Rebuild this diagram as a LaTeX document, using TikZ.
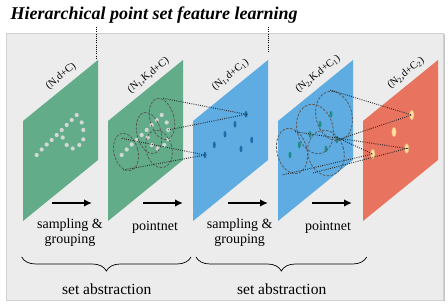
\documentclass[tikz,border=0pt]{standalone}
\usepackage{fontspec}
\setmainfont{Liberation Serif}
\usetikzlibrary{arrows.meta,decorations.pathreplacing}

\definecolor{bggray}{HTML}{ECECEC}
\definecolor{sheetgreen}{HTML}{62AC89}
\definecolor{sheetblue}{HTML}{5EACE2}
\definecolor{sheetred}{HTML}{E8735F}
\definecolor{pointgray}{HTML}{D3D7D5}
\definecolor{centerblue}{HTML}{1C6EAA}
\definecolor{centerteal}{HTML}{1E8C87}
\definecolor{featpeach}{HTML}{FDE0A0}
\definecolor{featedge}{HTML}{F2B27A}

% точки исходного облака (буква P)
\newcommand{\pdots}{36.7/149, 41.7/154.5, 46.7/159.5, 51.7/164, 56.7/169, 61.7/174, 66.7/179, 71.7/184, 76.7/189, 81.7/181.5, 83.3/174, 83.3/164.7, 79.3/159, 72.7/155.5, 66.7/159, 62.7/166.5}

\tikzset{
	sheet/.style={shift={(#1,83)}, cm={1,0.8133,0,1,(0,0)}},
	ballq/.style={draw=black!65, line width=0.8pt, dash pattern=on 2.5pt off 1.5pt},
	linkline/.style={draw=black!85, line width=0.9pt, dash pattern=on 0.9pt off 1.3pt},
	dimlabel/.style={rotate=39, inner sep=0pt, font=\fontsize{10.5}{12}\selectfont},
	steptext/.style={align=center, inner sep=0pt, font=\fontsize{14}{15}\selectfont},
	absttext/.style={inner sep=0pt, font=\fontsize{15.5}{17}\selectfont},
	flow/.style={line width=1.7pt, -{Latex[length=8pt,width=7.5pt]}},
	grp/.style={decorate, decoration={brace, mirror, amplitude=14pt}, line width=0.7pt}
}

\begin{document}
\begin{tikzpicture}[x=1pt, y=1pt]
	\useasboundingbox (0,0) rectangle (448,304);

	\fill[black!22] (7.5,2.5) rectangle (444.5,269.5); % тень
	\fill[bggray, draw=black!18, line width=0.5pt] (6,4) rectangle (443,271); % фон

	% листы
	\foreach \xo/\col in {23/sheetgreen, 108/sheetgreen, 193/sheetblue, 278/sheetblue, 363/sheetred}
		\fill[sheet=\xo, \col] (0,0) rectangle (75,100);

	% точки на первых двух листах
	\foreach \px/\py in \pdots {
		\fill[pointgray] (\px,\py) circle (2.1);
		\fill[pointgray] (\px+85,\py) circle (2.1);
	}

	% центроиды
	\foreach \px/\py [count=\i] in {246/189.7, 235/179.7, 225/169.7, 214.3/159, 205/149, 251.7/164, 241/155} {
		\coordinate (c\i) at (\px,\py);
		\coordinate (d\i) at (\px+85,\py);
		\fill[centerblue] (c\i) ellipse (1.5 and 3.4);
		\fill[centerteal] (d\i) ellipse (1.5 and 3.4);
	}
	\foreach \px/\py [count=\i] in {411.7/189, 394/172, 372.7/150, 406.7/155.5} {
		\coordinate (f\i) at (\px,\py);
		\filldraw[fill=featpeach, draw=featedge, line width=0.4pt] (f\i) ellipse (2.2 and 4.8);
	}

	% шары группировки
	\foreach \bx/\by/\rx/\ry in {162/185/12/21, 149/171/12/21, 126/152/12/19, 159/155/13/19}
		\draw[ballq] (\bx,\by) ellipse [x radius=\rx, y radius=\ry, rotate=14];
	\foreach \bx/\by/\rx/\ry in {334/188/18/25, 315/175/18/25, 292/153/15/23, 326/151/18/23}
		\draw[ballq] (\bx,\by) ellipse [x radius=\rx, y radius=\ry, rotate=14];

	% конусы к центроидам
	\coordinate (g1) at (163.3,205.7);
	\coordinate (g2) at (168.3,174);
	\coordinate (g3) at (121.7,165.7);
	\coordinate (g4) at (123.3,134);
	\draw[linkline] (g1) -- (c1) -- (g2);
	\draw[linkline] (g3) -- (c5) -- (g4);

	\coordinate (h1) at (330,214);
	\coordinate (h2) at (337,164);
	\coordinate (h3) at (295,172.3);
	\coordinate (h4) at (313,131);
	\coordinate (h5) at (335,167.3);
	\coordinate (h6) at (282,129);
	\draw[linkline] (h1) -- (f1) -- (h2);
	\draw[linkline] (h3) -- (f4) -- (h4);
	\draw[linkline] (h5) -- (f3) -- (h6);

	% заголовок
	\node[anchor=base west, inner sep=0pt, font=\fontsize{18}{20}\selectfont\bfseries\itshape] (title) at (10.5,284.7) {Hierarchical point set feature learning};
	\coordinate (t1) at (96.5,277);
	\coordinate (t2) at (96.5,245);
	\coordinate (t3) at (268,277);
	\coordinate (t4) at (268,251);
	\draw[linkline, draw=black] (t1) -- (t2);
	\draw[linkline, draw=black] (t3) -- (t4);

	% размеры тензоров
	\node[dimlabel] (n1) at (61,227.5) {(N,d+C)};
	\node[dimlabel] (n2) at (148.5,228.5) {(N\textsubscript{1},K,d+C)};
	\node[dimlabel] (n3) at (230.5,229) {(N\textsubscript{1},d+C\textsubscript{1})};
	\node[dimlabel] (n4) at (318,230) {(N\textsubscript{2},K,d+C\textsubscript{1})};
	\node[dimlabel] (n5) at (406,231) {(N\textsubscript{2},d+C\textsubscript{2})};

	% стрелки
	\foreach \xs [count=\i] in {52, 143, 228, 312} {
		\coordinate (a\i) at (\xs,101);
		\coordinate (b\i) at (\xs+40,101);
		\draw[flow] (a\i) -- (b\i);
	}

	\node[steptext] (s1) at (70,71) {sampling \&\\grouping};
	\node[steptext] (p1) at (155,76.5) {pointnet};
	\node[steptext] (s2) at (239.7,71) {sampling \&\\grouping};
	\node[steptext] (p2) at (328,76.5) {pointnet};

	% скобки
	\coordinate (l1) at (21.7,47);
	\coordinate (r1) at (191,47);
	\coordinate (l2) at (196,47);
	\coordinate (r2) at (366.7,47);
	\draw[grp] (l1) -- (r1);
	\draw[grp] (l2) -- (r2);

	\node[absttext] (sa1) at (106.7,14.5) {set abstraction};
	\node[absttext] (sa2) at (281.7,14.5) {set abstraction};
\end{tikzpicture}
\end{document}
